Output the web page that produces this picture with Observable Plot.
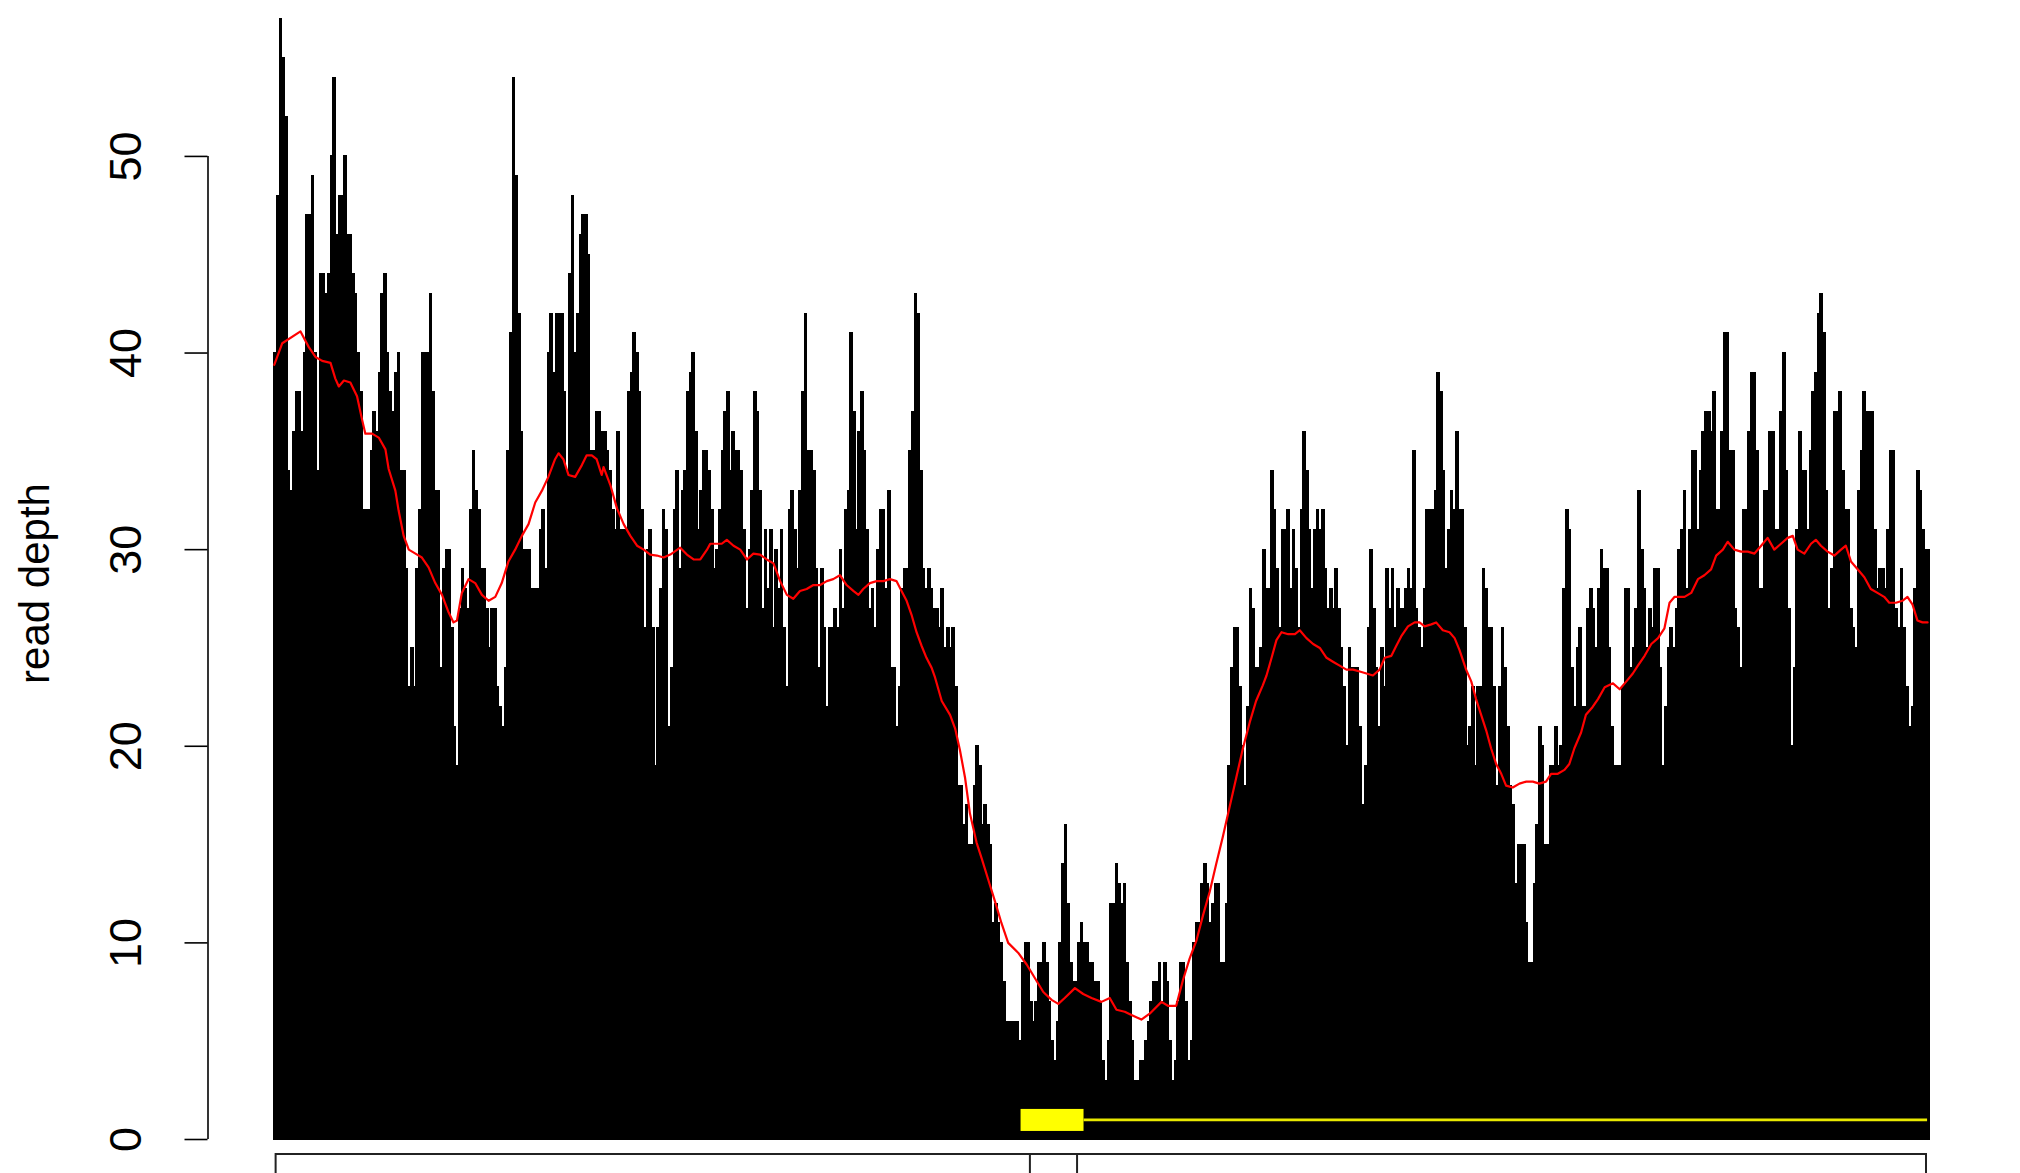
<!DOCTYPE html>
<html><head><meta charset="utf-8">
<script src="https://cdn.jsdelivr.net/npm/d3@7"></script>
<script src="https://cdn.jsdelivr.net/npm/@observablehq/plot@0.6"></script>
<style>html,body{margin:0;padding:0;background:#fff;overflow:hidden}</style>
</head><body><div id="chart"></div>
<script>
// read depth per bin, left to right
const depth1 = [40,48,57,55,52,34,33,36,38,38,36,40,47,47,49,40,34,44,44,43,44,50,54,46,48,48,50,46,46,44,43,40,38,32,32,32,35,37,36,39,43,44,40,38,37,39,40,34,34,29,23,25,23,29,32,40,40,40,43,38,33,33,24,29,30,30,26,21,19,27,29,28,27,32,35,33,32,29,29,27,25,27,27,23,22,21,24,35,41,54,49,42,36,30,30,30,28,28,28,31,32,29,40,42,39,42,42,42,38,34,44,48,40,42,46,47,47,45,35,35,37,37,36];
const depth2 = [36,35,34,32,31,36,31,31,31,38,39,41,40,38,32,26,30,31,26,19,26,28,32,31,21,24,32,34,29,33,34,38,39,40,36,31,33,35,35,34,32,29,30,32,35,37,38,34,36,35,35,34,31,27,30,33,38,37,33,27,31,28,31,26,30,28,31,26,23,32,33,31,29,33,38,42,35,35,34,29,24,29,26,22,26,26,27,26,30,27,32,33,41,37,31,36,38,35,31,27,28,26,30,32,32,28,33,24,24,21,23,28,29,29,35,37,43,42,34,29,28,29,28,27];
const depth3 = [27,26,28,25,26,25,26,23,18,18,16,17,15,15,18,20,19,16,17,16,15,11,12,11,10,8,6,6,6,6,6,5,9,10,10,7,6,7,9,9,10,9,7,5,4,6,10,14,16,12,9,8,8,10,11,10,10,9,9,8,8,7,4,3,5,12,12,14,13,12,13,9,7,5,3,3,4,4,5,6,7,8,8,9,7,9,8,5,3,4,7,9,9,7,4,5,10,11,11,13,14,13,11,12,13,13,9,9,12,19,24,26,26,23,20,18,22,28,27,24,24,25,30,28];
const depth4 = [28,34,32,29,26,31,31,32,28,31,29,26,32,36,34,31,28,31,32,31,32,29,27,28,27,29,27,25,23,20,25,24,24,24,21,17,19,26,30,27,24,21,25,23,29,27,29,26,28,27,27,28,29,28,35,27,26,25,28,32,32,32,33,39,38,34,29,31,33,32,36,32,32,26,20,21,23,19,23,23,29,28,26,26,23,18,23,26,24,21,18,17,13,15,15,15,11,9,9,13,16,21,20,15,15,19,19,21,19,20,28,32,31,24,22,25,26,22,22,27,28,27,25,28];
const depth5 = [30,29,29,25,21,19,19,19,23,28,28,24,25,27,33,30,28,25,27,26,29,29,24,19,22,25,26,25,27,30,31,33,28,31,35,35,31,34,36,37,37,36,38,32,32,36,41,41,35,35,27,26,24,32,32,36,39,39,35,28,28,33,33,36,36,31,31,37,40,34,27,20,24,31,36,34,34,31,35,38,39,42,43,41,33,27,29,37,37,38,34,32,32,27,26,25,33,35,38,37,37,37,31,28,29,29,28,31,35,35,27,26,29,26,23,21,22,28,34,33,31,30,30];

// smoothed depth (red line): bin position and value
const smoothX = [0,3.0,9.8,12.9,15.4,17.9,21.0,22.8,24.1,26.0,28.4,30.9,32.8,34.0,36.5,39.0,41.5,42.7,45.2,46.4,48.3,50.2,52.7,55.1,57.6,60.1,62.6,65.1,66.9,68.2,70.0,72.5,75.0,77.5,80.0,82.5,84.9,87.4,89.9,92.4,94.9,97.4,99.9,102.3,104.8,106.1,107.9,109.8,112.3,114.8,116.6,118.5,120.3,122.2,
  122.9,125.4,127.9,130.4,132.9,135.4,137.9,140.3,142.8,145.3,147.8,151.5,154.0,156.5,159.0,161.5,162.7,165.2,167.0,168.9,171.4,173.9,176.4,178.8,181.3,183.8,186.3,188.8,191.3,193.7,196.2,198.7,201.2,203.7,206.2,208.6,211.1,213.6,216.1,218.0,219.8,222.3,224.8,227.3,229.8,232.2,234.1,236.0,237.8,239.7,241.6,243.4,245.3,
  246.6,249.1,252.2,254.1,255.9,257.8,259.6,262.1,264.0,266.5,269.0,271.4,273.9,277.6,280.8,283.9,287.0,290.1,292.6,295.0,298.8,301.9,305.0,308.7,311.8,314.3,317.4,320.5,323.6,326.7,331.1,333.5,336.6,339.1,341.6,344.1,346.6,349.1,351.5,354.0,356.5,359.0,361.5,364.0,366.4,368.9,
  370.3,372.2,374.0,375.9,378.4,380.9,382.7,385.2,387.7,390.2,392.7,395.1,397.6,400.1,402.6,405.1,407.6,410.0,412.5,414.4,416.9,418.7,420.6,423.1,425.6,427.4,429.3,431.8,433.6,436.1,438.6,440.5,442.3,444.8,446.7,448.5,450.4,452.3,454.1,456.0,457.9,459.7,462.2,464.7,467.2,469.7,472.1,474.6,476.5,479.0,481.5,483.3,485.2,487.7,489.5,492.0,
  494.0,496.5,499.6,502.1,504.6,507.0,508.9,511.4,513.9,516.4,518.8,520.7,522.6,526.3,528.8,531.3,533.7,536.2,538.1,540.6,542.4,544.9,547.4,549.9,552.4,554.9,557.3,559.8,562.3,564.8,566.7,568.5,571.0,573.5,575.3,577.2,579.7,582.2,584.7,586.5,588.4,590.9,593.4,595.8,598.3,600.8,602.7,605.2,607.6,609.5,611.4,613.2,615.1,617.0];
const smoothY = [39.4,40.5,41.1,40.3,39.8,39.6,39.5,38.7,38.3,38.6,38.5,37.8,36.6,35.9,35.9,35.7,35.1,34.1,33.0,32.0,30.7,30.0,29.8,29.6,29.1,28.3,27.7,26.8,26.3,26.4,27.8,28.5,28.3,27.7,27.4,27.6,28.3,29.4,30.0,30.7,31.3,32.4,33.0,33.7,34.6,34.9,34.6,33.8,33.7,34.3,34.8,34.8,34.6,33.8,
  34.2,33.3,32.1,31.3,30.7,30.2,30.0,29.75,29.7,29.6,29.75,30.1,29.75,29.5,29.5,30.0,30.3,30.3,30.3,30.5,30.2,30.0,29.5,29.8,29.75,29.5,29.3,28.4,27.7,27.5,27.9,28.0,28.2,28.2,28.4,28.5,28.7,28.2,27.9,27.7,28.0,28.3,28.4,28.4,28.5,28.4,27.9,27.4,26.7,25.8,25.1,24.5,24.0,
  23.5,22.3,21.6,20.9,19.8,18.4,16.6,15.1,14.3,13.2,12.1,11.0,10.0,9.5,8.9,8.2,7.5,7.1,6.9,7.2,7.7,7.4,7.2,7.0,7.2,6.6,6.5,6.3,6.1,6.4,7.0,6.8,6.8,8.1,9.2,10.1,11.4,12.6,14.0,15.4,16.9,18.4,19.9,21.2,22.3,23.1,
  23.6,24.5,25.4,25.8,25.7,25.7,25.9,25.5,25.2,25.0,24.5,24.3,24.1,23.9,23.9,23.8,23.7,23.6,23.9,24.5,24.6,25.1,25.6,26.1,26.3,26.3,26.1,26.2,26.3,25.9,25.8,25.5,24.9,23.9,23.3,22.4,21.6,20.8,19.9,19.1,18.6,18.0,17.9,18.1,18.2,18.2,18.1,18.2,18.6,18.6,18.8,19.1,19.9,20.7,21.6,22.0,
  22.4,23.0,23.2,22.9,23.3,23.7,24.1,24.6,25.2,25.5,26.0,27.3,27.6,27.6,27.8,28.5,28.7,29.0,29.7,30.0,30.4,30.0,29.9,29.9,29.8,30.2,30.6,30.0,30.3,30.6,30.7,30.0,29.8,30.3,30.5,30.2,29.9,29.7,30.0,30.2,29.4,29.0,28.6,28.0,27.8,27.6,27.3,27.3,27.4,27.6,27.2,26.4,26.3,26.3];

// gene model (bin units): coding block and the line that follows it
const exonStart = [278.7], exonEnd = [302.2];
const lineStart = [302.2], lineEnd = [617];
// lower track: box and its two dividers (bin units)
const lowerBox = [[0.7, 616.6]];
const lowerDividers = [282.0, 299.6];

const yTicks = [0, 10, 20, 30, 40, 50];
const yLabel = "read depth";

const depth = [...depth1, ...depth2, ...depth3, ...depth4, ...depth5];
const bars = depth.map((v, i) => ({i, i1: i + 1, v}));
const smooth = smoothX.map((x, k) => ({x, y: smoothY[k]}));
const N = depth.length;
const pad = 0.04 * N;
const font = "'Liberation Sans', Arial, Helvetica, sans-serif";

const chart = Plot.plot({
  width: 2020, height: 1173,
  marginLeft: 207.5, marginRight: 24, marginTop: 0, marginBottom: 0,
  x: {domain: [-pad, N + pad], axis: null},
  y: {domain: [-1.729, 57.93], axis: null},
  style: {background: "white", fontFamily: font, color: "black"},
  marks: [
    Plot.rectY(bars, {x1: "i", x2: "i1", y: "v", fill: "black", stroke: "black", strokeWidth: 1, shapeRendering: "crispEdges"}),
    Plot.line(smooth, {x: "x", y: "y", stroke: "#ff0000", strokeWidth: 2.2}),
    Plot.rect(exonStart.map((s, k) => ({s, e: exonEnd[k]})), {x1: "s", x2: "e", y1: 0.41, y2: 1.53, fill: "#ffff00"}),
    Plot.ruleY(lineStart.map((s, k) => ({s, e: lineEnd[k]})), {x1: "s", x2: "e", y: 1.0, stroke: "#e8e800", strokeWidth: 2.6}),
    Plot.ruleX([-pad], {y1: yTicks[0], y2: yTicks[yTicks.length - 1], stroke: "black", strokeWidth: 1.6}),
    Plot.axisY(yTicks, {anchor: "left", tickSize: 23, tickRotate: -90, tickPadding: 44, fontSize: 45, stroke: "black", strokeWidth: 1.6, fill: "black", tickFormat: d => String(d)}),
    Plot.text([yLabel], {frameAnchor: "left", textAnchor: "middle", rotate: -90, dx: -172, dy: -3.5, fontSize: 42, fill: "black"}),
    Plot.rect(lowerBox.map(([a, b]) => ({a, b})), {x1: "a", x2: "b", y1: -0.763, y2: -6, fill: "none", stroke: "#222", strokeWidth: 2}),
    Plot.ruleX(lowerDividers, {y1: -0.763, y2: -6, stroke: "#222", strokeWidth: 2})
  ]
});
document.getElementById("chart").appendChild(chart);
</script>
</body></html>
